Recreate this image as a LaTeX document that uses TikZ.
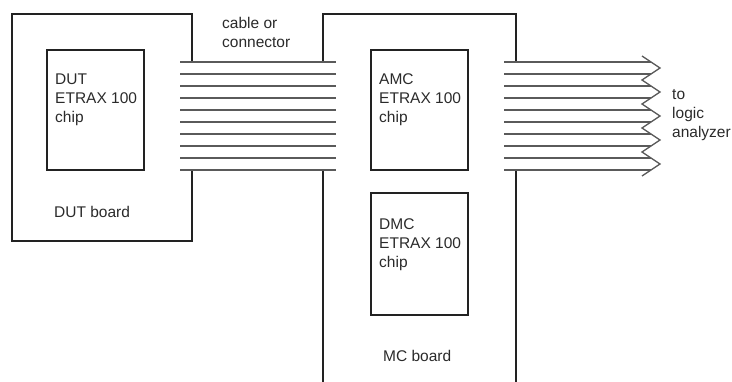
\documentclass[tikz,border=0pt]{standalone}
\usepackage{fontspec}
\setmainfont{Liberation Sans}
\definecolor{edge}{HTML}{222222}
\definecolor{wire}{HTML}{5A5A5A}
\definecolor{ink}{HTML}{2A2A2A}
\begin{document}
\begin{tikzpicture}[x=1pt,y=-1pt,
  board/.style={draw=edge,line width=2pt,line cap=rect},
  chipbox/.style={draw=edge,line width=1.8pt},
  wireline/.style={draw=wire,line width=1.3pt},
  lbl/.style={inner sep=0pt,anchor=base west,align=left,text=ink,
    font=\fontsize{15.5}{19}\selectfont}]
\useasboundingbox (0,0) rectangle (732,382);
% DUT board
\draw[board] (192,62) -- (192,14) -- (12,14) -- (12,241) -- (192,241) -- (192,170);
% MC board (open at bottom)
\draw[board] (323,62) -- (323,14) -- (516,14) -- (516,62);
\draw[board] (323,382) -- (323,170);
\draw[board] (516,382) -- (516,170);
% chips
\draw[chipbox] (47,50) rectangle (144,170);
\draw[chipbox] (371,50) rectangle (468,170);
\draw[chipbox] (371,193) rectangle (468,315);
% cable lines
\foreach \i in {0,...,9}{
  \coordinate (ca\i) at (180,62+12*\i);
  \coordinate (cb\i) at (336,62+12*\i);
  \draw[wireline] (ca\i) -- (cb\i);
  \coordinate (oa\i) at (504,62+12*\i);
  \coordinate (ob\i) at (651,62+12*\i);
  \draw[wireline] (oa\i) -- (ob\i);
}
% zigzag arrow heads
\draw[wireline,line join=miter] (642,56) -- (660,68) -- (642,80) -- (660,92) -- (642,104)
  -- (660,116) -- (642,128) -- (660,140) -- (642,152) -- (660,164) -- (642,176);
% labels
\node[lbl] (cable) at (222,29) {cable or};
\node[lbl] (cable2) at (222,48) {connector};
\node[lbl] (dut1) at (55,85) {DUT};
\node[lbl] (dut2) at (55,104) {ETRAX 100};
\node[lbl] (dut3) at (55,123) {chip};
\node[lbl] (amc1) at (379,85) {AMC};
\node[lbl] (amc2) at (379,104) {ETRAX 100};
\node[lbl] (amc3) at (379,123) {chip};
\node[lbl] (dmc1) at (379,230) {DMC};
\node[lbl] (dmc2) at (379,249) {ETRAX 100};
\node[lbl] (dmc3) at (379,268) {chip};
\node[lbl] (dutb) at (54,218) {DUT board};
\node[lbl] (mcb) at (383,362) {MC board};
\node[lbl] (to1) at (672,100) {to};
\node[lbl] (to2) at (672,119) {logic};
\node[lbl] (to3) at (672,138) {analyzer};
\end{tikzpicture}
\end{document}
